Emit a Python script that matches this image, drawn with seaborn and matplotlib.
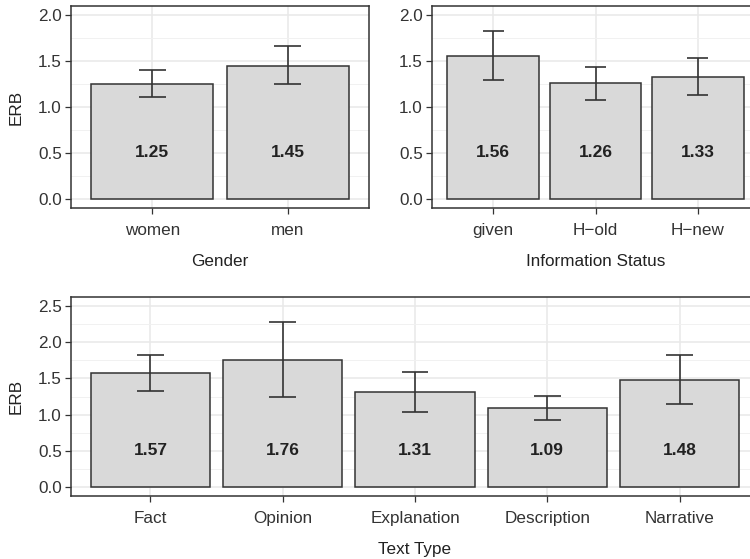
import matplotlib
matplotlib.use("Agg")
import matplotlib.pyplot as plt
from matplotlib.ticker import MultipleLocator, FormatStrFormatter
import seaborn as sns
import pandas as pd

# ---- data ----
gender_cats = ["women", "men"]
gender_means = [1.25, 1.45]
gender_lower = [1.11, 1.25]
gender_upper = [1.40, 1.66]

info_cats = ["given", "H\u2212old", "H\u2212new"]
info_means = [1.56, 1.26, 1.33]
info_lower = [1.29, 1.08, 1.13]
info_upper = [1.83, 1.44, 1.53]

text_cats = ["Fact", "Opinion", "Explanation", "Description", "Narrative"]
text_means = [1.57, 1.76, 1.31, 1.09, 1.48]
text_lower = [1.32, 1.25, 1.03, 0.93, 1.15]
text_upper = [1.83, 2.28, 1.59, 1.26, 1.82]

sns.set_theme(style="white")
plt.rcParams["font.family"] = ["Liberation Sans", "DejaVu Sans"]

W, H = 750, 559
fig = plt.figure(figsize=(W / 100, H / 100), dpi=100)

FS = 12.3


def px_axes(x0, y0, x1, y1):
    return fig.add_axes([x0 / W, 1 - y1 / H, (x1 - x0) / W, (y1 - y0) / H])


def panel(ax, cats, means, lower, upper, xlabel, ylim, ylabel, ytop):
    df = pd.DataFrame({"cat": cats, "val": means})
    sns.barplot(data=df, x="cat", y="val", order=cats, ax=ax, width=0.9,
                errorbar=None, color="#d9d9d9", saturation=1,
                edgecolor="#333333", linewidth=1.1, zorder=2)
    xs = list(range(len(cats)))
    ax.vlines(xs, lower, upper, color="#333333", lw=1.2, zorder=3)
    ax.hlines(lower, [x - 0.1 for x in xs], [x + 0.1 for x in xs],
              color="#333333", lw=1.2, zorder=3)
    ax.hlines(upper, [x - 0.1 for x in xs], [x + 0.1 for x in xs],
              color="#333333", lw=1.2, zorder=3)
    for x, m in zip(xs, means):
        ax.text(x, 0.5, f"{m:.2f}", ha="center", va="center",
                fontsize=12.5, fontweight="bold", color="#222222", zorder=4)
    ax.set_xlim(-0.6, len(cats) - 0.4)
    ax.set_ylim(*ylim)
    ax.yaxis.set_minor_locator(MultipleLocator(0.25))
    ax.set_yticks([v * 0.5 for v in range(int(ytop / 0.5) + 1)])
    ax.yaxis.set_major_formatter(FormatStrFormatter("%.1f"))
    ax.set_axisbelow(True)
    ax.grid(which="major", color="#e8e8e8", lw=1.1, zorder=0)
    ax.grid(which="minor", axis="y", color="#f1f1f1", lw=0.7, zorder=0)
    ax.tick_params(which="major", length=4, width=0.9, color="#333333",
                   labelsize=FS, labelcolor="#333333",
                   bottom=True, left=True)
    ax.tick_params(axis="x", pad=15.5)
    ax.tick_params(axis="y", pad=2.5)
    ax.tick_params(which="minor", length=0)
    for lab in ax.get_xticklabels():
        lab.set_verticalalignment("baseline")
    for s in ax.spines.values():
        s.set_color("#333333")
        s.set_linewidth(1.1)
    ax.set_xlabel(xlabel, fontsize=FS, color="#222222", labelpad=11.5)
    ax.set_ylabel(ylabel, fontsize=FS, color="#222222", labelpad=10.5)


ax1 = px_axes(71, 6, 369, 208)
panel(ax1, gender_cats, gender_means, gender_lower, gender_upper,
      "Gender", (-0.1, 2.1), "ERB", 2.0)

ax2 = px_axes(432, 6, 759, 208)
panel(ax2, info_cats, info_means, info_lower, info_upper,
      "Information Status", (-0.1, 2.1), "", 2.0)

ax3 = px_axes(71, 297, 759, 496)
panel(ax3, text_cats, text_means, text_lower, text_upper,
      "Text Type", (-0.125, 2.625), "ERB", 2.5)

fig.savefig("out.png", dpi=100)
